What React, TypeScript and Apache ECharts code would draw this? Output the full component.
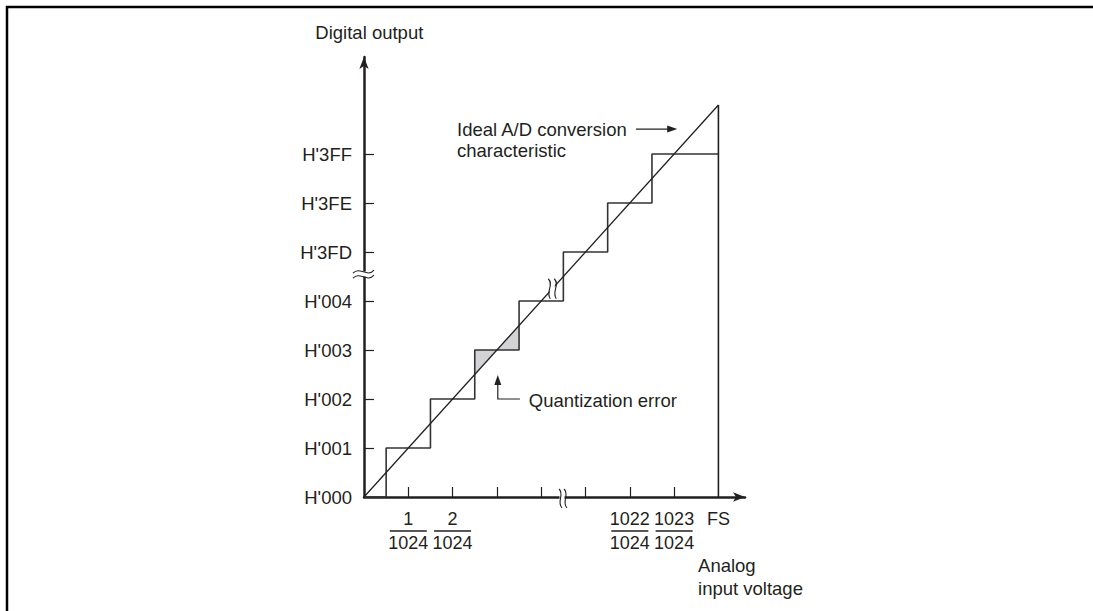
import React, { useEffect, useRef } from "react";
import * as echarts from "echarts";

// ---- data ----
const yTickValues = [0, 1, 2, 3, 4, 5, 6, 7];
const yTickLabels = ["H'000", "H'001", "H'002", "H'003", "H'004", "H'3FD", "H'3FE", "H'3FF"];
const xTickValues = [1, 2, 3, 4, 5, 6, 7];
const xLabelValues = [1, 2, 6, 7, 8];
const xLabelNumerators = ["1", "2", "1022", "1023", "FS"];
const xLabelDenominators = ["1024", "1024", "1024", "1024", ""];
const staircase = [
  [0, 0], [0.5, 0], [0.5, 1], [1.5, 1], [1.5, 2], [2.5, 2], [2.5, 3], [3.5, 3],
  [3.5, 4], [4.5, 4], [4.5, 5], [5.5, 5], [5.5, 6], [6.5, 6], [6.5, 7], [8, 7],
];
const fullScaleEdge = [[8, 0], [8, 8]];
const idealLine = [[0, 0], [8, 8]];
const errorTriangles = [
  [2.5, 2.5, 2.5, 3, 3, 3],
  [3, 3, 3.5, 3, 3.5, 3.5],
];
// [x, y, kind] kind 0 = y-axis break, 1 = x-axis break, 2 = diagonal break
const breakMarks = [
  [0, 4.55, 0],
  [4.47, 0, 1],
  [4.25, 4.25, 2],
];
// annotation anchors (data units)
const yAxisTitle = "Digital output";
const yAxisTitleAt = [0.12, 9.47];
const xAxisTitle = "Analog\ninput voltage";
const xAxisTitleAt = [7.54, -1.39];
const idealText = "Ideal A/D conversion\ncharacteristic";
const idealTextAt = [2.1, 7.51];
const idealArrow = [[6.14, 7.51], [7.07, 7.51]];
const quantText = "Quantization error";
const quantTextAt = [3.72, 1.97];
const quantArrow = [[3.52, 2.0], [3.02, 2.0], [3.02, 2.49]];

const INK = "#231f20";
const FONT = "'Liberation Sans', Arial, Helvetica, sans-serif";
const FS = 18.5;
const FSX = 18;

export default function App() {
  const ref = useRef<HTMLDivElement>(null);
  useEffect(() => {
    if (!ref.current) return;
    const chart = echarts.init(ref.current, null, { renderer: "svg" });
    const option: any = {
      animation: false,
      backgroundColor: "#fff",
      textStyle: { fontFamily: FONT, color: INK },
      grid: { left: 364, top: 57, right: 348, bottom: 114, containLabel: false },
      xAxis: {
        type: "value",
        min: 0,
        max: 8.6,
        interval: 1,
        splitLine: { show: false },
        axisLine: {
          show: true,
          onZero: false,
          symbol: ["none", "arrow"],
          symbolSize: [7, 12],
          lineStyle: { color: INK, width: 2.5 },
        },
        axisTick: {
          show: true,
          inside: true,
          length: 10,
          customValues: xTickValues,
          lineStyle: { color: INK, width: 1.2 },
        },
        axisLabel: {
          show: true,
          margin: 12,
          customValues: xLabelValues,
          formatter: (v: number) => {
            const i = xLabelValues.indexOf(v);
            if (i < 0) return "";
            const n = xLabelNumerators[i];
            const d = xLabelDenominators[i];
            return d ? `{n|${n}}\n{bar| }\n{d|${d}}` : `{n|${n}}`;
          },
          rich: {
            n: { fontSize: FSX, lineHeight: 20, color: INK, fontFamily: FONT, align: "center" },
            bar: { width: 37, height: 1.3, lineHeight: 4, fontSize: 2, backgroundColor: INK, align: "center" },
            d: { fontSize: FSX, lineHeight: 20, color: INK, fontFamily: FONT, align: "center" },
          },
        },
      },
      yAxis: {
        type: "value",
        min: 0,
        max: 8.98,
        interval: 1,
        splitLine: { show: false },
        axisLine: {
          show: true,
          onZero: false,
          symbol: ["none", "arrow"],
          symbolSize: [7, 12],
          lineStyle: { color: INK, width: 2.5 },
        },
        axisTick: {
          show: true,
          inside: true,
          length: 10,
          customValues: [1, 2, 3, 4, 5, 6, 7],
          lineStyle: { color: INK, width: 1.2 },
        },
        axisLabel: {
          show: true,
          margin: 12,
          customValues: yTickValues,
          fontSize: FS,
          color: INK,
          fontFamily: FONT,
          formatter: (v: number) => {
            const i = yTickValues.indexOf(v);
            return i >= 0 ? yTickLabels[i] : "";
          },
        },
      },
      series: [
        {
          type: "custom",
          name: "error",
          z: 1,
          clip: false,
          silent: true,
          encode: { x: [0, 2, 4], y: [1, 3, 5] },
          data: errorTriangles,
          renderItem: (params: any, api: any) => {
            const pts = [0, 1, 2].map((k) => api.coord([api.value(2 * k), api.value(2 * k + 1)]));
            return { type: "polygon", shape: { points: pts }, style: { fill: "#d1d3d4", stroke: "none" } };
          },
        },
        {
          type: "line",
          name: "staircase",
          z: 3,
          data: staircase,
          symbol: "none",
          lineStyle: { color: "#333", width: 1.6 },
        },
        {
          type: "line",
          name: "fs",
          z: 3,
          data: fullScaleEdge,
          symbol: "none",
          lineStyle: { color: INK, width: 1.6 },
        },
        {
          type: "line",
          name: "ideal",
          z: 3,
          data: idealLine,
          symbol: "none",
          lineStyle: { color: INK, width: 1.3 },
        },
        {
          type: "custom",
          name: "breaks",
          z: 6,
          clip: false,
          silent: true,
          data: breakMarks,
          encode: { x: 0, y: 1 },
          renderItem: (params: any, api: any) => {
            const [px, py] = api.coord([api.value(0), api.value(1)]);
            const kind = api.value(2);
            const st = { stroke: INK, lineWidth: 1.1, fill: "none" };
            if (kind === 0) {
              return {
                type: "group",
                children: [
                  { type: "rect", shape: { x: px - 3, y: py - 2.5, width: 6, height: 5 }, style: { fill: "#fff" } },
                  { type: "bezierCurve", shape: { x1: px - 11, y1: py - 1, cpx1: px - 4, cpy1: py - 8, cpx2: px + 3, cpy2: py + 4, x2: px + 10, y2: py - 4 }, style: st },
                  { type: "bezierCurve", shape: { x1: px - 11, y1: py + 4, cpx1: px - 4, cpy1: py - 3, cpx2: px + 3, cpy2: py + 9, x2: px + 10, y2: py + 1 }, style: st },
                ],
              };
            }
            if (kind === 1) {
              return {
                type: "group",
                children: [
                  { type: "rect", shape: { x: px - 2.5, y: py - 3, width: 5, height: 6 }, style: { fill: "#fff" } },
                  { type: "bezierCurve", shape: { x1: px - 3, y1: py - 8, cpx1: px + 3, cpy1: py - 2, cpx2: px - 6, cpy2: py + 4, x2: px, y2: py + 11 }, style: st },
                  { type: "bezierCurve", shape: { x1: px + 2, y1: py - 8, cpx1: px + 8, cpy1: py - 2, cpx2: px - 1, cpy2: py + 4, x2: px + 5, y2: py + 11 }, style: st },
                ],
              };
            }
            return {
              type: "group",
              children: [
                { type: "rect", shape: { x: px - 2.5, y: py - 5, width: 5, height: 10 }, style: { fill: "#fff" } },
                { type: "bezierCurve", shape: { x1: px - 4, y1: py - 10, cpx1: px + 2, cpy1: py - 4, cpx2: px - 7, cpy2: py + 3, x2: px - 2, y2: py + 10 }, style: st },
                { type: "bezierCurve", shape: { x1: px + 2, y1: py - 10, cpx1: px + 8, cpy1: py - 4, cpx2: px - 1, cpy2: py + 3, x2: px + 4, y2: py + 10 }, style: st },
              ],
            };
          },
        },
      ],
    };
    chart.setOption(option);

    const P = (p: number[]) => chart.convertToPixel({ gridIndex: 0 }, p) as number[];
    const a1 = P(idealArrow[0]);
    const a2 = P(idealArrow[1]);
    const q = quantArrow.map(P);
    const txt = (t: string, p: number[], align: string, va: string, lh: number) => ({
      type: "text",
      x: p[0],
      y: p[1],
      silent: true,
      style: {
        text: t,
        fill: INK,
        fontSize: FS,
        fontFamily: FONT,
        align,
        verticalAlign: va,
        lineHeight: lh,
      },
    });
    const tA = P(yAxisTitleAt);
    const tX = P(xAxisTitleAt);
    const tI = P(idealTextAt);
    const tQ = P(quantTextAt);
    chart.setOption({
      graphic: [
        {
          type: "rect",
          silent: true,
          shape: { x: 7, y: 7, width: 1300, height: 1000 },
          style: { fill: "none", stroke: "#000", lineWidth: 2.5 },
        },
        txt(yAxisTitle, tA, "center", "middle", 22),
        txt(xAxisTitle, [tX[0], tX[1] - 11.5], "left", "top", 23),
        txt(idealText, [tI[0], tI[1] - 10.5], "left", "top", 21),
        txt(quantText, tQ, "left", "middle", 20),
        {
          type: "line",
          silent: true,
          shape: { x1: a1[0], y1: a1[1], x2: a2[0] - 8, y2: a2[1] },
          style: { stroke: INK, lineWidth: 1.2 },
        },
        {
          type: "polygon",
          silent: true,
          shape: { points: [[a2[0], a2[1]], [a2[0] - 10, a2[1] - 3.5], [a2[0] - 10, a2[1] + 3.5]] },
          style: { fill: INK },
        },
        {
          type: "polyline",
          silent: true,
          shape: { points: [q[0], q[1], [q[2][0], q[2][1] + 8]] },
          style: { stroke: INK, lineWidth: 1.2, fill: "none" },
        },
        {
          type: "polygon",
          silent: true,
          shape: { points: [[q[2][0], q[2][1]], [q[2][0] - 3.5, q[2][1] + 10], [q[2][0] + 3.5, q[2][1] + 10]] },
          style: { fill: INK },
        },
      ],
    });
    return () => chart.dispose();
  }, []);
  return (
    <div
      ref={ref}
      style={{ position: "fixed", left: 0, top: 0, width: 1093, height: 611, background: "#fff" }}
    />
  );
}
